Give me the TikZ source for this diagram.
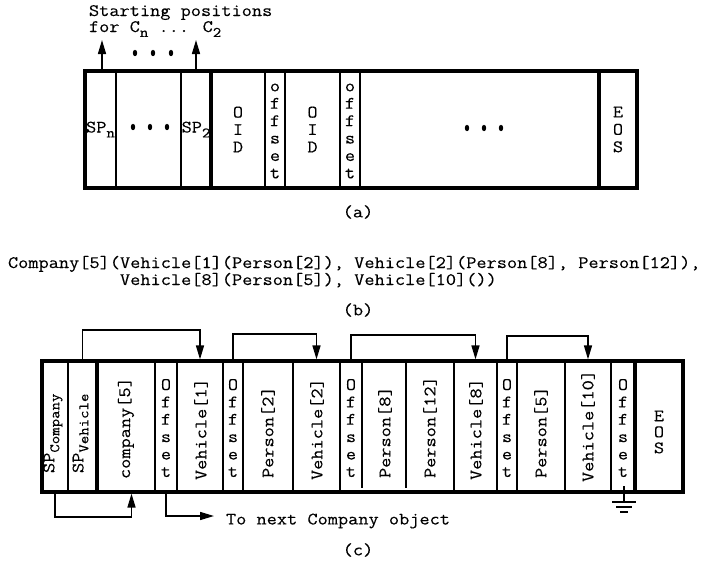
\documentclass[tikz,border=0pt]{standalone}
\usepackage{fontspec}
\newfontfamily\mono[FakeStretch=1.13, FakeBold=0.2]{Latin Modern Mono}
\usetikzlibrary{arrows.meta}
% lowered, smaller text for subscripts such as SP_n
\newcommand\subtxt[1]{\raisebox{-0.28em}{\fontsize{14.5}{14.5}\selectfont #1}}

\begin{document}
\begin{tikzpicture}[x=1pt,y=-1pt,
  every node/.style={font=\mono\fontsize{17.5}{17.4}\selectfont, inner sep=0pt, outer sep=0pt},
  cellA/.style={minimum width=#1, minimum height=117pt},
  cellC/.style={minimum width=#1, minimum height=131pt},
  stack/.style={align=center},
  vlabel/.style={rotate=90, anchor=west},
  frame/.style={line width=3.2pt},
  thickdiv/.style={line width=4.6pt},
  thindiv/.style={line width=1.1pt},
  link/.style={line width=1.5pt, -{Triangle[length=14pt,width=8pt]}},
  wire/.style={line width=1.5pt},
  dot/.style={fill=black},
]
\useasboundingbox (0,0) rectangle (702,563);

% ---------------- (a) layout of a single segment ----------------
\node[anchor=base west] (startA) at (89,16) {Starting positions};
\node[anchor=base west] (startB) at (89,32) {for C\subtxt{n} ... C\subtxt{2}};

\node[cellA=31pt] (a1) at (100.5,129.5) {SP\subtxt{n}};
\node[cellA=65pt] (a2) at (148.5,129.5) {};
\node[cellA=30pt] (a3) at (196,129.5) {SP\subtxt{2}};
\node[cellA=54pt, stack] (a4) at (238,129.5) {O\\I\\D};
\node[cellA=20pt, stack] (a5) at (275,131) {o\\f\\f\\s\\e\\t};
\node[cellA=55pt, stack] (a6) at (312.5,129.5) {O\\I\\D};
\node[cellA=20pt, stack] (a7) at (350,131) {o\\f\\f\\s\\e\\t};
\node[cellA=239pt] (a8) at (479.5,129.5) {};
\node[cellA=38pt, stack] (a9) at (618,129.5) {E\\O\\S};

\foreach \n in {a1,a2,a4,a5,a6,a7}
  \draw[thindiv] (\n.north east) -- (\n.south east);
\foreach \n in {a3,a8}
  \draw[thickdiv] (\n.north east) -- (\n.south east);
\draw[frame] (a1.north west) rectangle (a9.south east);

% ellipsis marks
\foreach \x in {133,150,167} \fill[dot] (\x,127) ellipse [x radius=2.2, y radius=3.2];
\foreach \x in {467,484,501} \fill[dot] (\x,128) ellipse [x radius=2.2, y radius=3.2];
\foreach \x in {135,153,171} \fill[dot] (\x,53) ellipse [x radius=2.2, y radius=3.2];

% starting-position pointers
\coordinate (tipN) at (102,40);
\coordinate (tip2) at (196,40);
\draw[link] (tipN |- a1.north) -- (tipN);
\draw[link] (tip2 |- a3.north) -- (tip2);

\node (capA) at (358,212) {(a)};

% ---------------- (b) nested object ----------------
\node[anchor=base west] (exprA) at (8,268) {Company[5](Vehicle[1](Person[2]), Vehicle[2](Person[8], Person[12]),};
\node[anchor=base west] (exprB) at (120,285) {Vehicle[8](Person[5]), Vehicle[10]())};
\node (capB) at (358,310) {(b)};

% ---------------- (c) stored segment ----------------
\node[cellC=26pt] (c1) at (55,426.5) {};
\node[cellC=29pt] (c2) at (82.5,426.5) {};
\node[cellC=58pt] (c3) at (126,426.5) {};
\node[cellC=22pt, stack] (c4) at (166,428) {O\\f\\f\\s\\e\\t};
\node[cellC=46pt] (c5) at (200,426.5) {};
\node[cellC=20pt, stack] (c6) at (233,428) {O\\f\\f\\s\\e\\t};
\node[cellC=50pt] (c7) at (268,426.5) {};
\node[cellC=47pt] (c8) at (316.5,426.5) {};
\node[cellC=22pt, stack] (c9) at (351,428) {O\\f\\f\\s\\e\\t};
\node[cellC=44pt] (c10) at (384,426.5) {};
\node[cellC=48pt] (c11) at (430,426.5) {};
\node[cellC=43pt] (c12) at (475.5,426.5) {};
\node[cellC=20pt, stack] (c13) at (507,428) {O\\f\\f\\s\\e\\t};
\node[cellC=48pt] (c14) at (541,426.5) {};
\node[cellC=46pt] (c15) at (588,426.5) {};
\node[cellC=24pt, stack] (c16) at (623,428) {O\\f\\f\\s\\e\\t};
\node[cellC=48pt, stack, font=\mono\fontsize{17.5}{16}\selectfont] (c17) at (659,432) {E\\O\\S};

\node[vlabel] (l1) at (53,473) {SP\subtxt{Company}};
\node[vlabel] (l2) at (80.5,473) {SP\subtxt{Vehicle}};
\node[vlabel] (l3) at (126,479) {company[5]};
\node[vlabel] (l5) at (201,480) {Vehicle[1]};
\node[vlabel] (l7) at (268,478) {Person[2]};
\node[vlabel] (l8) at (317,480) {Vehicle[2]};
\node[vlabel] (l10) at (385,478) {Person[8]};
\node[vlabel] (l11) at (430,478) {Person[12]};
\node[vlabel] (l12) at (476,480) {Vehicle[8]};
\node[vlabel] (l14) at (541,478) {Person[5]};
\node[vlabel] (l15) at (588,482) {Vehicle[10]};

\foreach \n in {c1,c3,c4,c5,c6,c7,c8,c11,c12,c13,c14,c15}
  \draw[thindiv] (\n.north east |- c1.north) -- (\n.south east |- c1.south);
\foreach \n in {c9,c10}
  \draw[thindiv] (\n.north east |- c1.north) -- ([yshift=4pt]\n.south east |- c1.south);
\foreach \n in {c2,c16}
  \draw[thickdiv] (\n.north east |- c1.north) -- (\n.south east |- c1.south);
\draw[frame] (c1.north west) rectangle (c17.south east |- c1.south);

% offset links over the segment
\draw[link, shorten >=1.6pt] (c2.north) -- ++(0,-31) -| (c5.north);
\draw[link, shorten >=1.6pt] (c6.north |- c1.north) -- ++(0,-27) -| (c8.north);
\draw[link, shorten >=1.6pt] (c9.north |- c1.north) -- ++(0,-26) -| (c12.north);
\draw[link, shorten >=1.6pt] (c13.north |- c1.north) -- ++(0,-25) -| (c15.north);

% links under the segment
\draw[link, shorten >=1.6pt] (c1.south) -- ++(0,25) -| ([xshift=5.5pt]c3.south);
\coordinate (nextTip) at (214,516);
\draw[link] (c4.south |- c1.south) |- (nextTip);
\node[anchor=west] (nextLbl) at (226,521) {To next Company object};

% null offset: ground symbol
\coordinate (gndTop) at (624,486);
\coordinate (gnd) at (624,502);
\draw[wire] (gndTop) -- (gnd);
\draw[wire] ([xshift=-12pt]gnd) -- ([xshift=12pt]gnd);
\draw[wire] ([xshift=-8pt,yshift=-5pt]gnd) -- ([xshift=8pt,yshift=-5pt]gnd);
\draw[wire] ([xshift=-4pt,yshift=-10pt]gnd) -- ([xshift=4pt,yshift=-10pt]gnd);

\node (capC) at (358,550) {(c)};
\end{tikzpicture}
\end{document}
